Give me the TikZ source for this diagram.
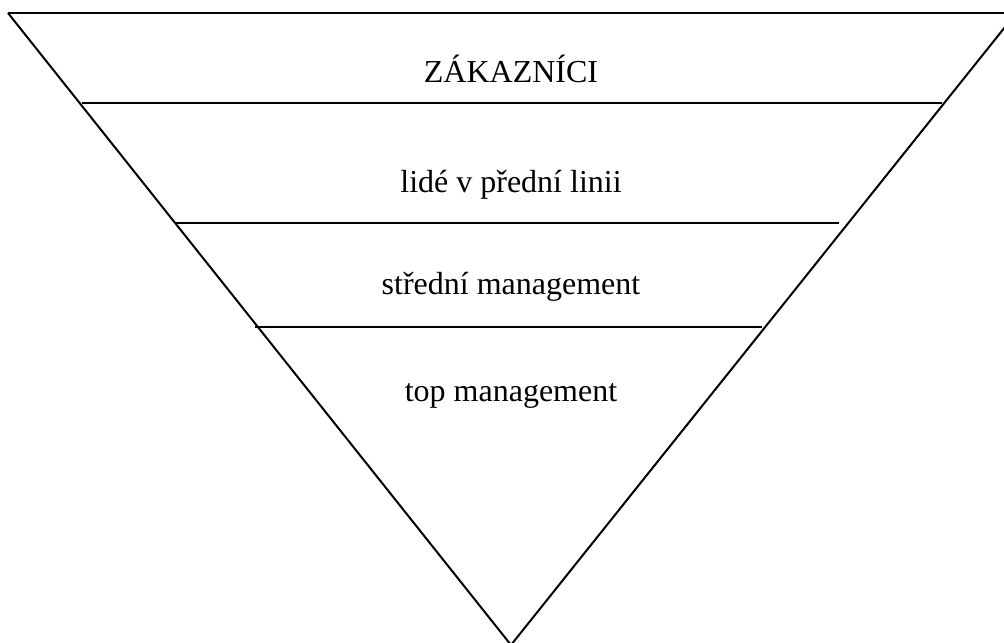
\documentclass[tikz,border=0pt]{standalone}
\usepackage{fontspec}
\setmainfont{Liberation Serif}
\begin{document}
\begin{tikzpicture}[
                x=0.5pt, y=-0.5pt,
                edge/.style={line width=1pt},
                level/.style={anchor=base, font=\fontsize{16}{19}\selectfont}
            ]
                \useasboundingbox (0,0) rectangle (1004,642);

                \coordinate (topleft) at (8,13);
                \coordinate (topright) at (1006,13);
                \coordinate (rightstart) at (1005,27);
                \coordinate (apex) at (511,645);

                \node[level] (zakaznici) at (511,83) {ZÁKAZNÍCI};
                \node[level] (linie) at (511,192) {lidé v přední linii};
                \node[level] (stredni) at (511,294) {střední management};
                \node[level] (top) at (511,401) {top management};

                \draw[edge] (topleft) -- (topright);
                \draw[edge] (topleft) -- (apex);
                \draw[edge] (rightstart) -- (apex);

                \draw[edge] (82,103) -- (942,103);
                \draw[edge] (175,223) -- (839,223);
                \draw[edge] (255,327) -- (762,327);
            \end{tikzpicture}
\end{document}
